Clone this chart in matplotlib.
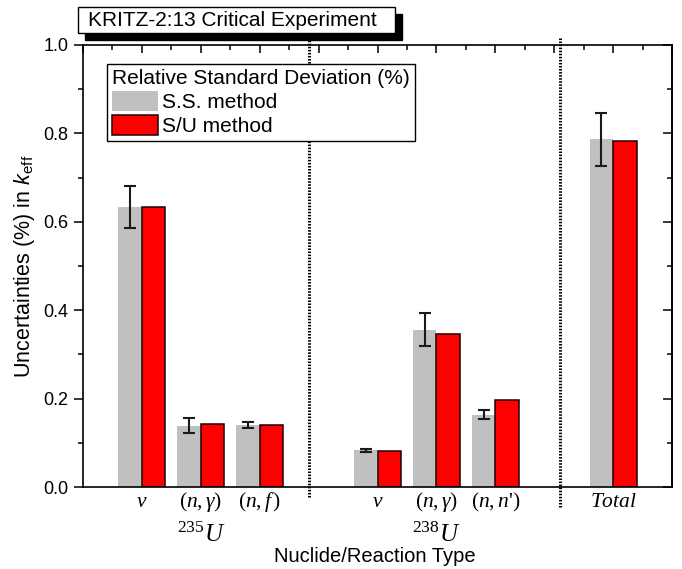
import matplotlib
matplotlib.use('Agg')
import matplotlib.pyplot as plt
from matplotlib.patches import Rectangle
from matplotlib.ticker import MultipleLocator

plt.rcParams['font.family'] = ['Liberation Sans', 'DejaVu Sans']
plt.rcParams['mathtext.fontset'] = 'custom'
plt.rcParams['mathtext.rm'] = 'Liberation Serif'
plt.rcParams['mathtext.it'] = 'Liberation Serif:italic'
plt.rcParams['mathtext.sf'] = 'Liberation Sans:italic'
plt.rcParams['mathtext.tt'] = 'Liberation Sans'

# ---- data ----
categories = [r'$\nu$', r'$(n,\gamma)$', r'$(n,f\,)$', r'$\nu$', r'$(n,\gamma)$', r"$(n,n$'$)$", r'$Total$']
nuclides = [r'$^{235}U$', r'$^{238}U$']
ss_values = [0.634, 0.139, 0.140, 0.083, 0.356, 0.164, 0.787]
ss_errors = [0.047, 0.016, 0.007, 0.004, 0.037, 0.010, 0.060]
su_values = [0.634, 0.143, 0.140, 0.081, 0.347, 0.197, 0.783]
legend_title = 'Relative Standard Deviation (%)'
series_names = ['S.S. method', 'S/U method']
chart_title = 'KRITZ-2:13 Critical Experiment'

# ---- layout ----
positions = [2, 4, 6, 10, 12, 14, 18]
nuclide_pos = [4, 12]
separators = [(7.68, -0.023, 1.011), (16.2, -0.045, 1.016)]
W, H = 682, 569
bw = 0.8

fig = plt.figure(figsize=(W / 100, H / 100), dpi=100)
ax = fig.add_axes([83 / W, 82 / H, 589 / W, 442 / H])

ax.bar([p - bw / 2 for p in positions], ss_values, width=bw, color='#c0c0c0',
       edgecolor='none', label=series_names[0], zorder=2)
ax.bar([p + bw / 2 for p in positions], su_values, width=bw, color='#ff0000',
       edgecolor='#1a0000', linewidth=1.1, label=series_names[1], zorder=2)
ax.errorbar([p - bw / 2 for p in positions], ss_values, yerr=ss_errors, fmt='none',
            ecolor='#1a1a1a', elinewidth=1.5, capsize=4.5, capthick=1.5, zorder=3)

for x, y0, y1 in separators:
    ax.plot([x, x], [y0, y1], color='black', lw=2.2, ls=(0, (0.5, 0.5)),
            clip_on=False, zorder=4)

ax.set_xlim(0, 20)
ax.set_ylim(0, 1)
ax.xaxis.set_major_locator(MultipleLocator(2))
ax.xaxis.set_minor_locator(MultipleLocator(1))
ax.yaxis.set_major_locator(MultipleLocator(0.2))
ax.yaxis.set_minor_locator(MultipleLocator(0.1))
ax.yaxis.set_major_formatter(matplotlib.ticker.FormatStrFormatter('%.1f'))
ax.tick_params(axis='x', which='both', bottom=False, top=True, direction='in',
               labelbottom=False, width=1.1)
ax.tick_params(axis='x', which='major', length=6)
ax.tick_params(axis='x', which='minor', length=3.5)
ax.tick_params(axis='y', which='both', left=True, right=False, direction='out',
               labelsize=13, width=1.1, pad=4)
ax.tick_params(axis='y', which='major', length=6.5)
ax.tick_params(axis='y', which='minor', length=3.5)
sec = ax.secondary_yaxis('right')
sec.yaxis.set_major_locator(MultipleLocator(0.2))
sec.yaxis.set_minor_locator(MultipleLocator(0.1))
sec.tick_params(axis='y', which='both', direction='in', labelright=False, width=1.1)
sec.tick_params(axis='y', which='major', length=6.5)
sec.tick_params(axis='y', which='minor', length=3.5)
for s in ax.spines.values():
    s.set_linewidth(1.2)
sec.spines['right'].set_linewidth(1.2)

xt = ax.get_xaxis_transform()
for p, c in zip(positions, categories):
    ax.text(p, (487 - 507) / 442, c, transform=xt, ha='center', va='baseline',
            fontsize=15.5, family='Liberation Serif')
for p, n in zip(nuclide_pos, nuclides):
    ax.text(p, (487 - 542) / 442, n, transform=xt, ha='center', va='baseline', fontsize=18)

ax.text(0.496, (487 - 556) / 442, 'Nuclide/Reaction Type', transform=ax.transAxes,
        ha='center', va='center', fontsize=14.5)
ax.text((25 - 83) / 589, 0.5, r'Uncertainties (%) in $\mathsf{k}_{\mathtt{eff}}$',
        transform=ax.transAxes, rotation=90, ha='center', va='center', fontsize=15.5)

# title box with shadow
fig.patches.append(Rectangle((85 / W, 1 - 40 / H), 317 / W, 26 / H, transform=fig.transFigure,
                             facecolor='black', edgecolor='black', zorder=5))
fig.patches.append(Rectangle((78 / W, 1 - 33 / H), 317 / W, 26 / H, transform=fig.transFigure,
                             facecolor='white', edgecolor='black', lw=1, zorder=6))
fig.text(232 / W, 1 - 20 / H, chart_title, ha='center', va='center', fontsize=15, zorder=7)

leg = ax.legend(loc='upper left', bbox_to_anchor=(107 / W, 1 - 64 / H),
                bbox_transform=fig.transFigure, borderaxespad=0, title=legend_title,
                fontsize=15, title_fontsize=15, frameon=True, fancybox=False,
                edgecolor='black', framealpha=1, handlelength=2.2, handleheight=1.15,
                handletextpad=0.2, labelspacing=0.12, borderpad=0.25, alignment='left')
leg.get_frame().set_linewidth(1.0)
leg.set_zorder(10)

fig.savefig('out.png', dpi=100)
